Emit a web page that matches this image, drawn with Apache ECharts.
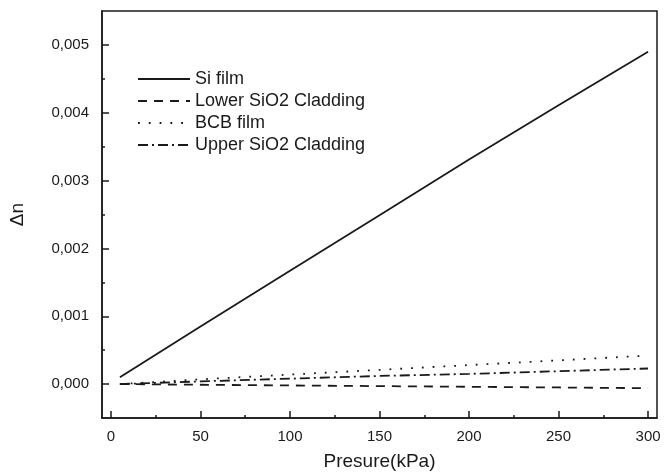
<!DOCTYPE html>
<html>
<head>
<meta charset="utf-8">
<script src="https://cdn.jsdelivr.net/npm/echarts@6/dist/echarts.min.js"></script>
<style>
  html, body { margin: 0; padding: 0; background: #fff; }
  #chart { width: 669px; height: 476px; }
</style>
</head>
<body>
<div id="chart"></div>
<script>
const pressure = [5, 50, 100, 150, 200, 250, 300]
const siFilm = [0.0001, 0.00085, 0.00167, 0.00249, 0.00331, 0.00411, 0.0049]
const lowerSiO2 = [0, -0.00001, -0.00002, -0.00003, -0.00004, -0.00005, -0.00006]
const bcbFilm = [0, 0.00007, 0.00014, 0.00021, 0.00028, 0.00035, 0.00042]
const upperSiO2 = [0, 0.00004, 0.00008, 0.00012, 0.00015, 0.00019, 0.00023]

const xMajor = [0, 50, 100, 150, 200, 250, 300]
const xMinor = [25, 75, 125, 175, 225, 275]
const yMajor = [0, 0.001, 0.002, 0.003, 0.004, 0.005]
const yMinor = [0.0005, 0.0015, 0.0025, 0.0035, 0.0045]

const font = 'Liberation Sans, Arial, sans-serif'
const ink = '#1a1a1a'

const pairs = (ys) => pressure.map((x, i) => [x, ys[i]])

const mkLine = (name, ys, dash) => ({
  name,
  type: 'line',
  data: pairs(ys),
  symbol: 'none',
  color: ink,
  lineStyle: { color: ink, width: 1.8, type: dash },
  xAxisIndex: 0,
  yAxisIndex: 0,
})

const chart = echarts.init(document.getElementById('chart'))
chart.setOption({
  animation: false,
  grid: { left: 101, right: 12, top: 11, bottom: 53, show: true, borderColor: ink, borderWidth: 1.5 },
  legend: {
    orient: 'vertical',
    left: 137,
    top: 70,
    padding: 0,
    itemWidth: 52,
    itemHeight: 14,
    itemGap: 4,
    itemStyle: { opacity: 0 },
    textStyle: { fontFamily: font, fontSize: 18, lineHeight: 18, color: ink },
    data: ['Si film', 'Lower SiO2 Cladding', 'BCB film', 'Upper SiO2 Cladding'],
  },
  xAxis: [
    {
      type: 'value',
      min: -5,
      max: 305,
      splitLine: { show: false },
      axisLine: { onZero: false, lineStyle: { color: ink, width: 1.5 } },
      axisTick: { inside: true, length: 7, customValues: xMajor, lineStyle: { color: ink, width: 1.5 } },
      axisLabel: { customValues: xMajor, fontFamily: font, fontSize: 15, color: ink, margin: 11 },
      name: 'Presure(kPa)',
      nameLocation: 'middle',
      nameGap: 34,
      nameTextStyle: { fontFamily: font, fontSize: 19, color: ink },
    },
    {
      type: 'value',
      min: -5,
      max: 305,
      position: 'bottom',
      splitLine: { show: false },
      axisLine: { show: false, onZero: false },
      axisTick: { inside: true, length: 3, customValues: xMinor, lineStyle: { color: ink, width: 1.5 } },
      axisLabel: { show: false },
    },
  ],
  yAxis: [
    {
      type: 'value',
      min: -0.0005,
      max: 0.0055,
      splitLine: { show: false },
      axisLine: { onZero: false, lineStyle: { color: ink, width: 1.5 } },
      axisTick: { inside: true, length: 7, customValues: yMajor, lineStyle: { color: ink, width: 1.5 } },
      axisLabel: {
        customValues: yMajor,
        fontFamily: font,
        fontSize: 15,
        color: ink,
        margin: 13,
        formatter: (v) => v.toFixed(3).replace('.', ','),
      },
      name: 'Δn',
      nameLocation: 'middle',
      nameGap: 75,
      nameRotate: 90,
      nameTextStyle: { fontFamily: font, fontSize: 19, color: ink },
    },
    {
      type: 'value',
      min: -0.0005,
      max: 0.0055,
      position: 'left',
      splitLine: { show: false },
      axisLine: { show: false, onZero: false },
      axisTick: { inside: true, length: 3, customValues: yMinor, lineStyle: { color: ink, width: 1.5 } },
      axisLabel: { show: false },
    },
  ],
  series: [
    mkLine('Si film', siFilm, 'solid'),
    mkLine('Lower SiO2 Cladding', lowerSiO2, [9, 7]),
    mkLine('BCB film', bcbFilm, [1.8, 9]),
    mkLine('Upper SiO2 Cladding', upperSiO2, [10, 4, 2, 4]),
  ],
})
</script>
</body>
</html>
